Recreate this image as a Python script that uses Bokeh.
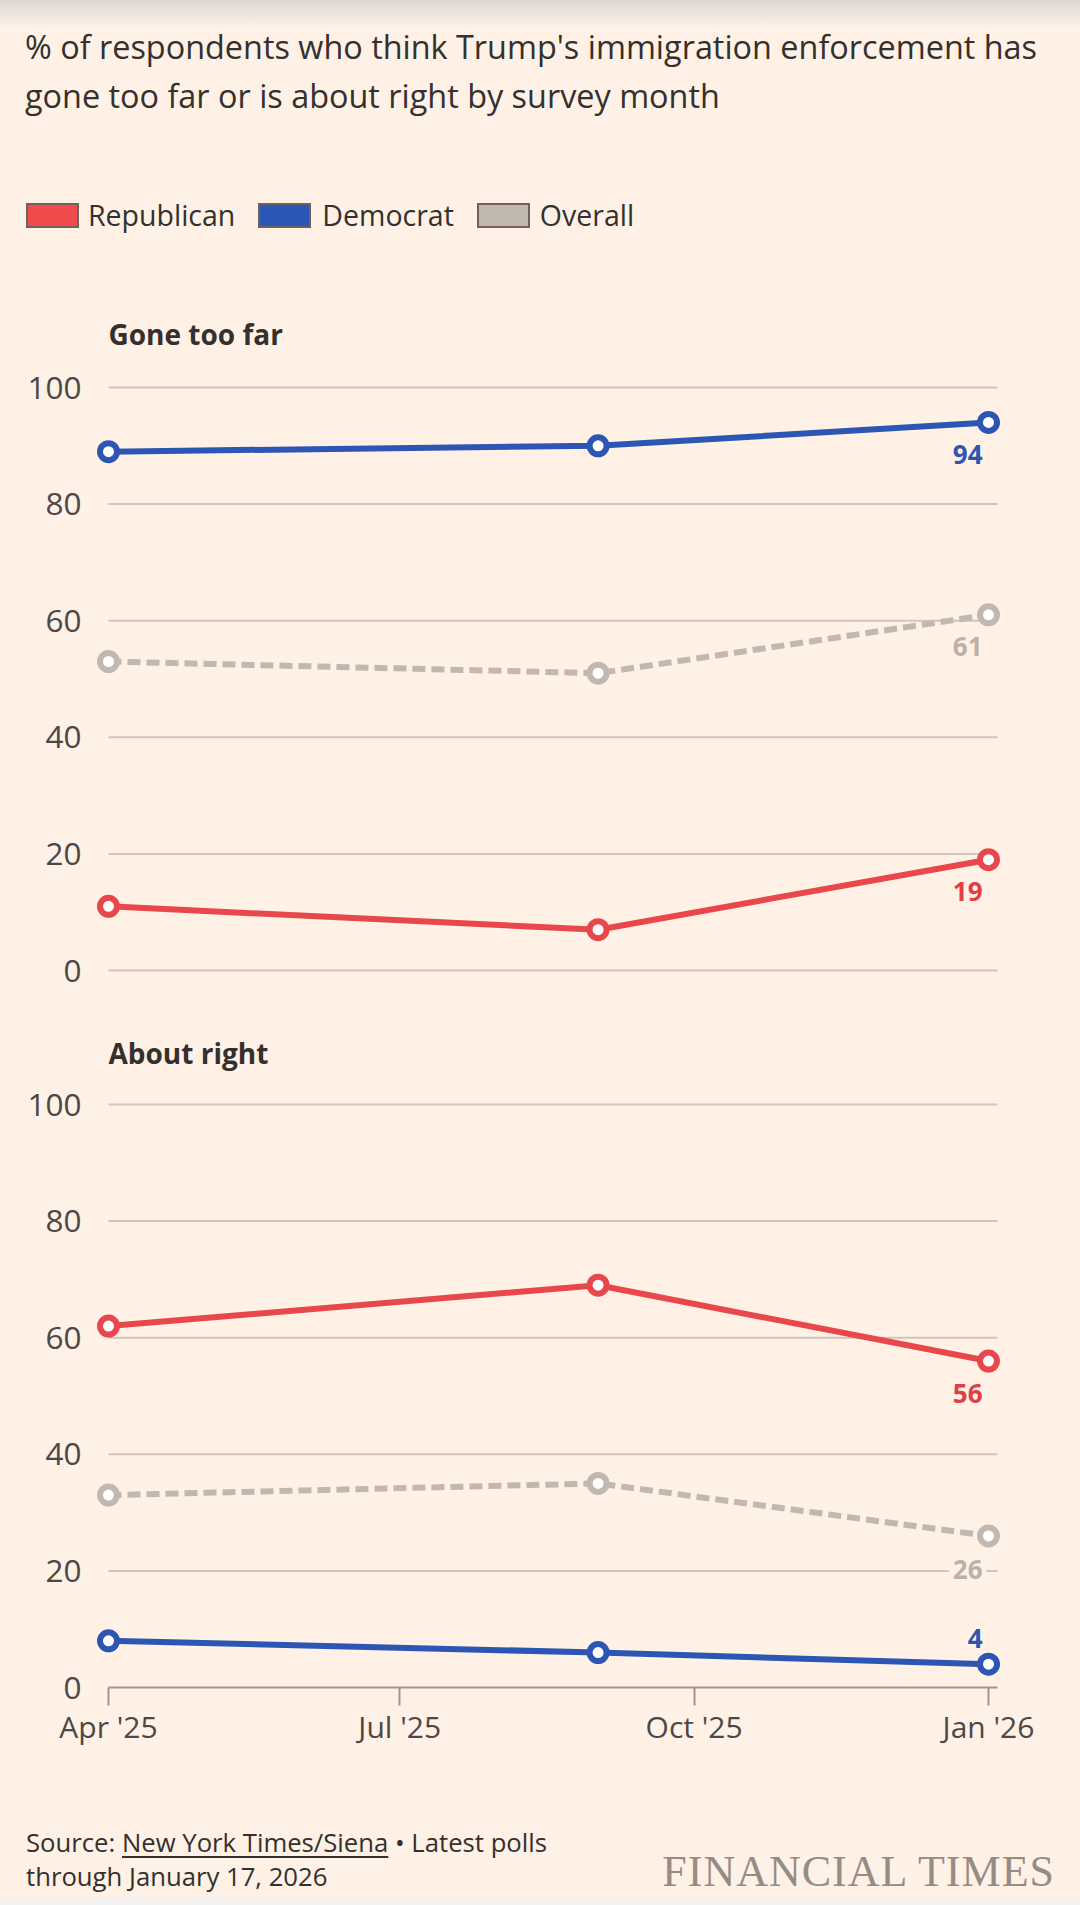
from datetime import datetime, timedelta

from bokeh.core.properties import value
from bokeh.embed import file_html
from bokeh.layouts import column
from bokeh.models import ColumnDataSource, DatetimeTickFormatter, Div, FixedTicker, Range1d
from bokeh.plotting import figure
from bokeh.resources import INLINE

# ---------------- data ----------------
survey_months = [datetime(2025, 4, 1), datetime(2025, 9, 1), datetime(2026, 1, 1)]
series_names = ["Republican", "Democrat", "Overall"]

gone_too_far_republican = [11, 7, 19]
gone_too_far_democrat = [89, 90, 94]
gone_too_far_overall = [53, 51, 61]

about_right_republican = [62, 69, 56]
about_right_democrat = [8, 6, 4]
about_right_overall = [33, 35, 26]

panel_titles = ["Gone too far", "About right"]
y_ticks = [0, 20, 40, 60, 80, 100]
x_ticks = [datetime(2025, 4, 1), datetime(2025, 7, 1), datetime(2025, 10, 1), datetime(2026, 1, 1)]

headline = ("% of respondents who think Trump's immigration enforcement has",
            "gone too far or is about right by survey month")
source_text = ("Source: ", "New York Times/Siena", " \u2022 Latest polls", "through January 17, 2026")

# ---------------- styles ----------------
BG = "#fff1e5"
COLORS = {"Republican": "#e8474b", "Democrat": "#2c55b4", "Overall": "#c1b8b0"}
SWATCH = {"Republican": "#f04b4c", "Democrat": "#2b57b8", "Overall": "#c0b7ae"}
LABEL_COLORS = {"Republican": "#e03f44", "Democrat": "#2c55b4", "Overall": "#bbb1a9"}
DASH = {"Republican": "solid", "Democrat": "solid", "Overall": "13 6"}
GRID = "#cfc5bb"
AXIS = "#a0968f"
TICK_TXT = "#4d4845"
DARK = "#33302e"
FONT = "Open Sans"
PAGE_W = 1080

PX_PER_DAY = 3.2
x_start = survey_months[0] - timedelta(days=5)
x_end = x_start + timedelta(days=920 / PX_PER_DAY)
grid_end = survey_months[-1] + timedelta(days=2.8)

# label offsets (screen px) for end-of-line value labels, per panel
label_offsets = [
    {"Republican": 32, "Democrat": 32, "Overall": 32},
    {"Republican": 32, "Democrat": -26, "Overall": 34},
]


def make_panel(title, values, y_range, height, min_top, min_bottom, show_x, grid_ticks, offsets,
               title_standoff):
    p = figure(
        width=PAGE_W, height=height,
        x_axis_type="datetime",
        x_range=Range1d(x_start, x_end),
        y_range=y_range,
        x_axis_location="below" if show_x else None,
        title=title,
        output_backend="svg", toolbar_location=None,
        min_border_left=92, min_border_right=PAGE_W - 1012,
        min_border_top=min_top, min_border_bottom=min_bottom,
        background_fill_color=BG, border_fill_color=BG,
        outline_line_color=None,
    )
    p.xgrid.visible = False
    p.ygrid.visible = False

    t = p.title
    t.text_font = FONT
    t.text_font_size = "28px"
    t.text_font_style = "bold"
    t.text_color = DARK
    t.align = "left"
    t.offset = 16
    t.standoff = title_standoff

    ya = p.yaxis[0]
    ya.ticker = FixedTicker(ticks=y_ticks)
    ya.axis_line_color = None
    ya.major_tick_line_color = None
    ya.minor_tick_line_color = None
    ya.major_tick_out = 0
    ya.major_label_standoff = 11
    ya.major_label_text_font = FONT
    ya.major_label_text_font_size = "31.5px"
    ya.major_label_text_color = TICK_TXT

    if show_x:
        xa = p.xaxis[0]
        xa.ticker = FixedTicker(ticks=[d.timestamp() * 1000 for d in x_ticks])
        xa.formatter = DatetimeTickFormatter(days="%b '%y", months="%b '%y", years="%b '%y")
        xa.bounds = (survey_months[0], grid_end)
        xa.axis_line_color = AXIS
        xa.axis_line_width = 2
        xa.major_tick_line_color = AXIS
        xa.major_tick_line_width = 2
        xa.major_tick_in = 0
        xa.major_tick_out = 18
        xa.minor_tick_line_color = None
        xa.major_label_standoff = 0
        xa.major_label_text_font = FONT
        xa.major_label_text_font_size = "30px"
        xa.major_label_text_color = TICK_TXT

    # gridlines limited to the data span
    p.segment(x0=[survey_months[0]] * len(grid_ticks), x1=[grid_end] * len(grid_ticks),
              y0=grid_ticks, y1=grid_ticks, line_color=GRID, line_width=2)

    order = ["Overall", "Republican", "Democrat"]
    for name in order:
        p.line(survey_months, values[name], line_color=COLORS[name], line_width=6,
               line_dash=DASH[name])
    for name in order:
        p.scatter(survey_months, values[name], marker="circle", size=17,
                  line_color=COLORS[name], line_width=6, fill_color="#ffffff")

    lab = ColumnDataSource(dict(
        x=[survey_months[-1]] * 3,
        y=[values[n][-1] for n in order],
        text=[str(values[n][-1]) for n in order],
        color=[LABEL_COLORS[n] for n in order],
        dy=[offsets[n] for n in order],
    ))
    p.text(x="x", y="y", text="text", source=lab, text_color="color",
           text_font=value(FONT), text_font_size=value("26px"), text_font_style="bold",
           text_align="right", text_baseline="middle", x_offset=-2, y_offset="dy",
           background_fill_color=BG, padding=4)
    return p


top_values = {"Republican": gone_too_far_republican, "Democrat": gone_too_far_democrat,
              "Overall": gone_too_far_overall}
bot_values = {"Republican": about_right_republican, "Democrat": about_right_democrat,
              "Overall": about_right_overall}

SCALE = 5.83  # px per percentage point
top = make_panel(panel_titles[0], top_values,
                 Range1d(0 - 30 / SCALE, 100 + 27 / SCALE),
                 height=720, min_top=80, min_bottom=0, show_x=False,
                 grid_ticks=y_ticks, offsets=label_offsets[0], title_standoff=16)
bottom = make_panel(panel_titles[1], bot_values,
                    Range1d(0, 100 + 24 / SCALE),
                    height=767, min_top=80, min_bottom=80, show_x=True,
                    grid_ticks=y_ticks[1:], offsets=label_offsets[1], title_standoff=17)

# ---------------- header (headline + legend) ----------------
legend_html = ""
gaps = [0, 23, 23]
text_gaps = [9, 11, 10]
for i, name in enumerate(series_names):
    legend_html += (
        f'<span style="display:inline-block;box-sizing:border-box;width:53px;height:25px;'
        f'margin-left:{gaps[i]}px;background:{SWATCH[name]};border:2px solid #6f625c;"></span>'
        f'<span style="margin-left:{text_gaps[i]}px;">{name}</span>'
    )

head = Div(
    text=(
        f'<div style="position:relative;width:{PAGE_W}px;height:280px;font-family:\'{FONT}\';color:{DARK};">'
        f'<div style="position:absolute;left:25px;top:22px;font-size:32.4px;line-height:49px;white-space:nowrap;">'
        f'{headline[0]}<br>{headline[1]}</div>'
        f'<div style="position:absolute;left:26px;top:195px;display:flex;align-items:center;'
        f'font-size:28.5px;white-space:nowrap;">{legend_html}</div>'
        f'</div>'
    ),
    width=PAGE_W, height=280, margin=(0, 0, 0, 0),
)

foot = Div(
    text=(
        f'<div style="position:relative;width:{PAGE_W}px;height:130px;font-family:\'{FONT}\';">'
        f'<div style="position:absolute;left:26px;top:59px;font-size:25.7px;line-height:34px;'
        f'color:{DARK};white-space:nowrap;">{source_text[0]}'
        f'<span style="text-decoration:underline;text-underline-offset:4px;">{source_text[1]}</span>'
        f'{source_text[2]}<br>{source_text[3]}</div>'
        f'<div style="position:absolute;right:25px;top:83px;font-family:\'Liberation Serif\';'
        f'font-size:44px;line-height:44px;letter-spacing:1px;color:#968c86;white-space:nowrap;">'
        f'FINANCIAL TIMES</div>'
        f'</div>'
    ),
    width=PAGE_W, height=130, margin=(0, 0, 0, 0),
)

top.margin = (0, 0, 0, 0)
bottom.margin = (0, 0, 0, 0)
layout = column(head, top, bottom, foot, spacing=0)
layout.margin = (0, 0, 0, 0)

page_style = (
    "<style>html,body{margin:0 !important;padding:0 !important;}"
    "body{background:linear-gradient(to bottom,#dcd7d3 0px,#fff1e5 28px) no-repeat top/100% 28px,"
    "linear-gradient(#f3f1f0,#f3f1f0) no-repeat bottom/100% 8px,#fff1e5 !important;}</style>"
)
html = file_html(layout, INLINE, title="Trump immigration enforcement")
html = html.replace("</head>", page_style + "</head>", 1)
open("out.html", "w").write(html)
